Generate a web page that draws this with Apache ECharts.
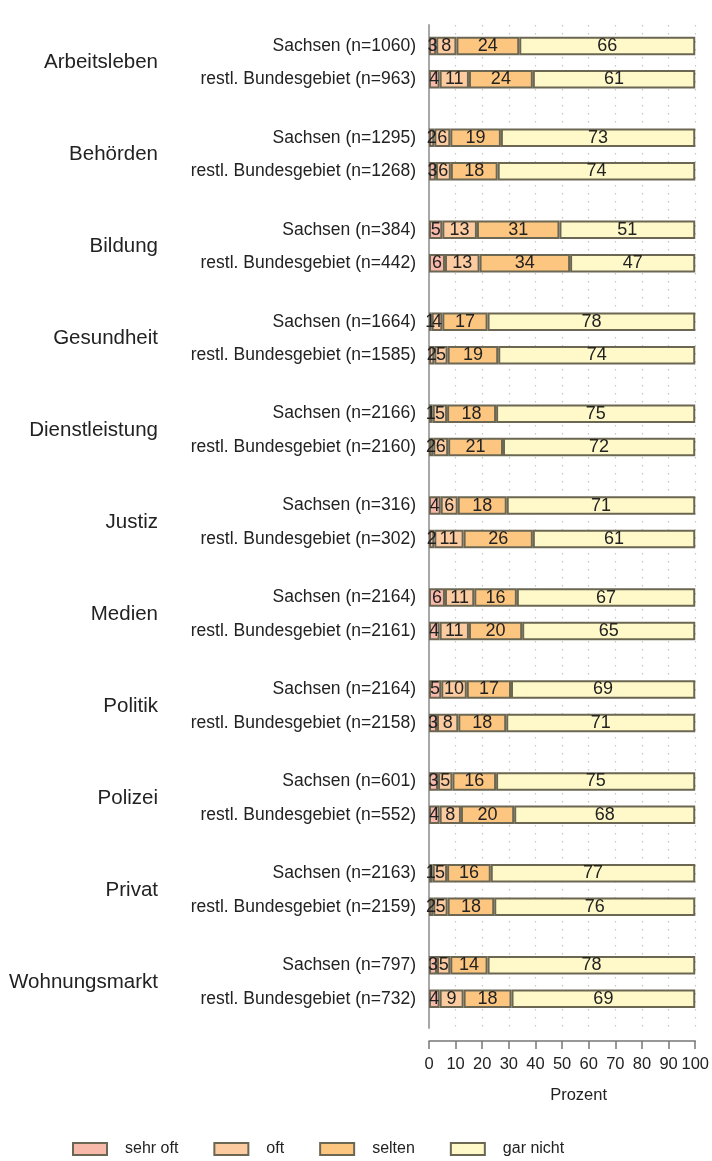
<!DOCTYPE html>
<html>
<head>
<meta charset="utf-8">
<script src="https://cdn.jsdelivr.net/npm/echarts@6/dist/echarts.min.js"></script>
<style>
html,body{margin:0;padding:0;background:#fff;}
#chart{width:712px;height:1161px;}
</style>
</head>
<body>
<div id="chart"></div>
<script>
// ---- data ----
const groups = ['Arbeitsleben','Behörden','Bildung','Gesundheit','Dienstleistung','Justiz','Medien','Politik','Polizei','Privat','Wohnungsmarkt'];
const nSachsen = [1060,1295,384,1664,2166,316,2164,2164,601,2163,797];
const nRest = [963,1268,442,1585,2160,302,2161,2158,552,2159,732];
const seriesNames = ['sehr oft','oft','selten','gar nicht'];

const sachsenSehrOft = [2.7,2,5,1,1.4,4.4,6,4.6,3.4,1.4,3];
const sachsenOft     = [7.6,6,13,4,5.4,6.4,11,9.6,5.4,5.4,5];
const sachsenSelten  = [23.6,19,31,17,18.4,18.4,16,16.6,16.4,16.4,14];
const sachsenGarNicht= [66.1,73,51,78,74.8,70.8,67,69.2,74.8,76.8,78];

const restSehrOft = [4,2.6,6,2,1.6,2,4,3,4,1.6,4];
const restOft     = [11,5.6,13,5,5.6,11,11,8,8,5.4,9];
const restSelten  = [24,17.6,34,19,20.6,26,20,18,20,17.5,18];
const restGarNicht= [61,74.2,47,74,72.2,61,65,71,68,75.5,69];

const xTicks = [0,10,20,30,40,50,60,70,80,90,100];

// ---- layout of category slots ----
const SLOTS_PER_GROUP = 11, TOP_PAD = 2, REST_OFF = 4, TOTAL = 120;
const slotOf = (g, isRest) => TOP_PAD + g*SLOTS_PER_GROUP + (isRest ? REST_OFF : 0);

const pairLabels = new Array(TOTAL).fill('');
const groupLabels = new Array(TOTAL).fill('');
groups.forEach((g,i)=>{
  pairLabels[slotOf(i,false)] = 'Sachsen (n=' + nSachsen[i] + ')';
  pairLabels[slotOf(i,true)] = 'restl. Bundesgebiet (n=' + nRest[i] + ')';
  groupLabels[slotOf(i,false) + 2] = g;
});

function build(sArr, rArr){
  const d = new Array(TOTAL).fill(null);
  groups.forEach((g,i)=>{ d[slotOf(i,false)] = sArr[i]; d[slotOf(i,true)] = rArr[i]; });
  return d;
}
const seriesData = [
  build(sachsenSehrOft, restSehrOft),
  build(sachsenOft, restOft),
  build(sachsenSelten, restSelten),
  build(sachsenGarNicht, restGarNicht)
];
const colors = ['#F9B9AA','#FDCBA0','#FDC680','#FFF8C8'];
const FONT = "'Liberation Sans', Arial, sans-serif";

const chart = echarts.init(document.getElementById('chart'), null, {renderer:'canvas'});
chart.setOption({
  animation:false,
  backgroundColor:'#fff',
  textStyle:{fontFamily:FONT},
  grid:{left:429, top:25, width:267, height:1003, containLabel:false},
  legend:{
    data:seriesNames, left:72, top:1141, padding:0, icon:'rect', itemWidth:34, itemHeight:12, itemGap:35,
    textStyle:{fontSize:16, color:'#222', fontFamily:FONT, padding:[0,0,0,13], lineHeight:16}
  },
  xAxis:{
    type:'value', min:xTicks[0], max:xTicks[xTicks.length-1], interval:10, position:'bottom', offset:13,
    axisLine:{show:true, lineStyle:{color:'#777', width:1.5}},
    axisTick:{show:true, length:8, lineStyle:{color:'#777', width:1.5}},
    axisLabel:{fontSize:16.5, color:'#222', margin:15, fontFamily:FONT},
    name:'Prozent', nameLocation:'middle', nameGap:46,
    nameTextStyle:{fontSize:16.5, color:'#222', fontFamily:FONT, padding:[0,0,0,33]},
    splitLine:{show:true, lineStyle:{color:'#c4c4c4', type:[1.5,6.5], width:1.2}}
  },
  yAxis:[{
    type:'category', inverse:true, data:pairLabels, position:'left',
    axisLine:{show:true, lineStyle:{color:'#a8a8a8', width:2}},
    axisTick:{show:false},
    axisLabel:{interval:0, fontSize:17.5, color:'#222', margin:13, fontFamily:FONT}
  },{
    type:'category', inverse:true, data:groupLabels, position:'left', offset:0,
    axisLine:{show:false}, axisTick:{show:false}, splitLine:{show:false},
    axisLabel:{interval:0, fontSize:20.5, color:'#222', margin:271, align:'right', fontFamily:FONT}
  }],
  series: seriesNames.map((name, k)=>({
    name, type:'bar', stack:'total', yAxisIndex:0, barWidth:18.5, clip:true,
    data: seriesData[k],
    itemStyle:{color:colors[k], borderColor:'#6b6752', borderWidth:2},
    label:{show:true, position:'inside', color:'#222', fontSize:18, fontFamily:FONT,
      formatter:p=> (p.value==null ? '' : String(Math.round(p.value)))},
    emphasis:{disabled:true}
  }))
});
</script>
</body>
</html>
